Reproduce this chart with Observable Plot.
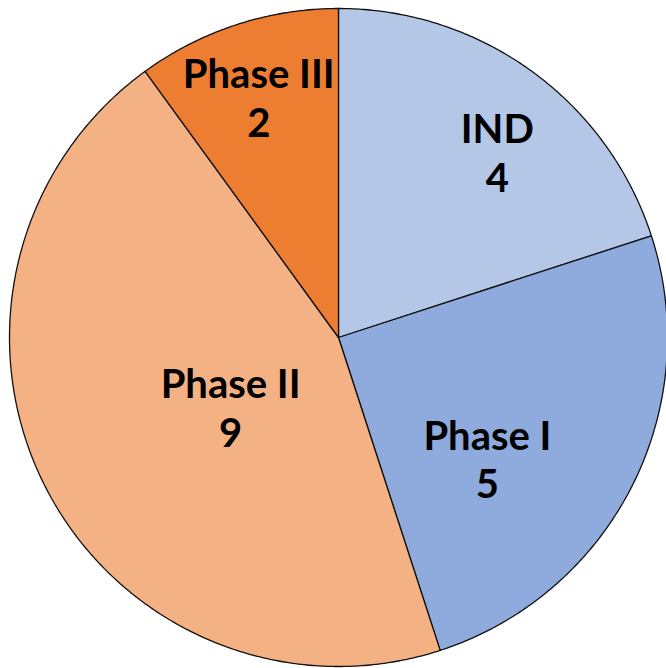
<!DOCTYPE html>
<html>
<head>
<meta charset="utf-8">
<script src="https://cdn.jsdelivr.net/npm/d3@7"></script>
<script src="https://cdn.jsdelivr.net/npm/@observablehq/plot@0.6"></script>
<style>
  html, body { margin: 0; padding: 0; background: #fff; }
</style>
</head>
<body>
<div id="chart"></div>
<script>
// Data
const categories = ["IND", "Phase I", "Phase II", "Phase III"];
const values = [4, 5, 9, 2];
const colors = ["#B4C7E7", "#8FAADC", "#F4B183", "#ED7D31"];

// Layout (label placement relative to slice, Excel "best fit"-like)
const labelRadius = [0.734, 0.591, 0.396, 0.76];
const labelAngleShift = [5.1, 13, -7.1, -0.6]; // degrees

const W = 666, H = 668;
const cx = 338, cy = 337, R = 329;

const pie = d3.pie().sort(null).value(d => d.value)(
  categories.map((c, i) => ({ label: c, value: values[i] }))
);

// Build slice outlines (polar geometry of each slice)
const slicePts = [];
pie.forEach(p => {
  const label = p.data.label;
  slicePts.push({ label, x: 0, y: 0 });
  const steps = Math.max(2, Math.ceil((p.endAngle - p.startAngle) / (Math.PI / 360)));
  for (let k = 0; k <= steps; k++) {
    const a = p.startAngle + (p.endAngle - p.startAngle) * k / steps;
    slicePts.push({ label, x: Math.sin(a), y: Math.cos(a) });
  }
  slicePts.push({ label, x: 0, y: 0 });
});

const labels = pie.map((p, i) => {
  const mid = (p.startAngle + p.endAngle) / 2 + labelAngleShift[i] * Math.PI / 180;
  return {
    text: `${p.data.label}\n${p.data.value}`,
    x: labelRadius[i] * Math.sin(mid),
    y: labelRadius[i] * Math.cos(mid)
  };
});

const chart = Plot.plot({
  width: W,
  height: H,
  margin: 0,
  x: { domain: [-1, 1], range: [cx - R, cx + R], axis: null },
  y: { domain: [-1, 1], range: [cy + R, cy - R], axis: null },
  color: { domain: categories, range: colors },
  style: { background: "#fff" },
  marks: [
    Plot.line(slicePts, {
      x: "x", y: "y", z: "label",
      fill: "label",
      stroke: "#111",
      strokeWidth: 1.3,
      strokeLinejoin: "round",
      curve: "linear"
    }),
    Plot.text(labels, {
      x: "x", y: "y", text: "text",
      fontSize: 40,
      fontWeight: "bold",
      fontFamily: "Lato, 'Open Sans', sans-serif",
      lineHeight: 1.22,
      dy: -4,
      fill: "#000",
      textAnchor: "middle"
    })
  ]
});

document.getElementById("chart").appendChild(chart);
</script>
</body>
</html>
